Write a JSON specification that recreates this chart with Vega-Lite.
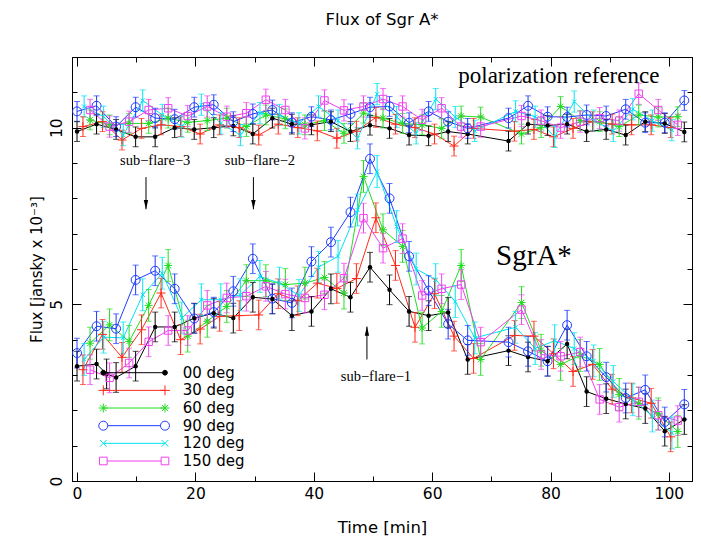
{
"$schema":"https://vega.github.io/schema/vega-lite/v6.json",
"width":620,"height":424,
"autosize":{"type":"none"},
"padding":{"left":72,"top":57,"right":9,"bottom":63},
"background":"white",
"title":{"text":"Flux of Sgr A*","font":"DejaVu Sans","fontSize":16.5,"fontWeight":"normal","color":"black","anchor":"middle","offset":28},
"config":{
 "view":{"stroke":"black","strokeWidth":1},
 "axis":{"grid":false,"domainColor":"black","domainWidth":1,"tickColor":"black","tickWidth":1,"labelColor":"black","titleColor":"black","labelFont":"DejaVu Sans","titleFont":"DejaVu Sans","labelFontSize":15.5,"titleFontSize":15,"titleFontWeight":"normal"}
},
"datasets":{
"arrows":[
 {"label":"sub−flare−3","time":11.65,"flux":8.6,"tip":7.69},
 {"label":"sub−flare−2","time":29.8,"flux":8.6,"tip":7.69},
 {"label":"sub−flare−1","time":48.98,"flux":3.44,"tip":4.37}
],
"angles":[{"angle":"00 deg"},{"angle":"30 deg"},{"angle":"60 deg"},{"angle":"90 deg"},{"angle":"120 deg"},{"angle":"150 deg"}],
"flux":[
{"angle":"00 deg","source":"SgrA*","time":0,"flux":3.25,"err":0.42},
{"angle":"00 deg","source":"SgrA*","time":3.3,"flux":3.31,"err":0.42},
{"angle":"00 deg","source":"SgrA*","time":5.0,"flux":3.03,"err":0.42},
{"angle":"00 deg","source":"SgrA*","time":6.6,"flux":2.93,"err":0.42},
{"angle":"00 deg","source":"SgrA*","time":9.9,"flux":3.25,"err":0.42},
{"angle":"00 deg","source":"SgrA*","time":13.2,"flux":4.36,"err":0.42},
{"angle":"00 deg","source":"SgrA*","time":16.5,"flux":4.36,"err":0.42},
{"angle":"00 deg","source":"SgrA*","time":19.8,"flux":4.61,"err":0.42},
{"angle":"00 deg","source":"SgrA*","time":23.1,"flux":4.75,"err":0.42},
{"angle":"00 deg","source":"SgrA*","time":26.4,"flux":4.61,"err":0.42},
{"angle":"00 deg","source":"SgrA*","time":29.7,"flux":5.2,"err":0.42},
{"angle":"00 deg","source":"SgrA*","time":33.0,"flux":5.15,"err":0.42},
{"angle":"00 deg","source":"SgrA*","time":36.3,"flux":4.68,"err":0.42},
{"angle":"00 deg","source":"SgrA*","time":39.6,"flux":4.8,"err":0.42},
{"angle":"00 deg","source":"SgrA*","time":42.9,"flux":5.44,"err":0.42},
{"angle":"00 deg","source":"SgrA*","time":46.2,"flux":5.2,"err":0.42},
{"angle":"00 deg","source":"SgrA*","time":49.5,"flux":6.05,"err":0.42},
{"angle":"00 deg","source":"SgrA*","time":52.8,"flux":5.41,"err":0.42},
{"angle":"00 deg","source":"SgrA*","time":56.1,"flux":4.8,"err":0.42},
{"angle":"00 deg","source":"SgrA*","time":59.4,"flux":4.68,"err":0.42},
{"angle":"00 deg","source":"SgrA*","time":62.7,"flux":4.77,"err":0.42},
{"angle":"00 deg","source":"SgrA*","time":66.0,"flux":3.44,"err":0.42},
{"angle":"00 deg","source":"SgrA*","time":72.9,"flux":3.69,"err":0.42},
{"angle":"00 deg","source":"SgrA*","time":76.2,"flux":3.51,"err":0.42},
{"angle":"00 deg","source":"SgrA*","time":79.5,"flux":3.39,"err":0.42},
{"angle":"00 deg","source":"SgrA*","time":82.8,"flux":3.88,"err":0.42},
{"angle":"00 deg","source":"SgrA*","time":86.1,"flux":2.53,"err":0.42},
{"angle":"00 deg","source":"SgrA*","time":89.4,"flux":2.33,"err":0.42},
{"angle":"00 deg","source":"SgrA*","time":92.7,"flux":2.18,"err":0.42},
{"angle":"00 deg","source":"SgrA*","time":96.0,"flux":2.05,"err":0.42},
{"angle":"00 deg","source":"SgrA*","time":99.3,"flux":1.41,"err":0.42},
{"angle":"00 deg","source":"SgrA*","time":102.6,"flux":1.74,"err":0.42},
{"angle":"00 deg","source":"polarization reference","time":0,"flux":9.89,"err":0.28},
{"angle":"00 deg","source":"polarization reference","time":3.3,"flux":10.1,"err":0.28},
{"angle":"00 deg","source":"polarization reference","time":6.6,"flux":9.95,"err":0.28},
{"angle":"00 deg","source":"polarization reference","time":9.9,"flux":9.74,"err":0.28},
{"angle":"00 deg","source":"polarization reference","time":13.2,"flux":9.74,"err":0.28},
{"angle":"00 deg","source":"polarization reference","time":16.5,"flux":10.0,"err":0.28},
{"angle":"00 deg","source":"polarization reference","time":19.8,"flux":9.95,"err":0.28},
{"angle":"00 deg","source":"polarization reference","time":23.1,"flux":10.0,"err":0.28},
{"angle":"00 deg","source":"polarization reference","time":26.4,"flux":10.05,"err":0.28},
{"angle":"00 deg","source":"polarization reference","time":29.7,"flux":9.82,"err":0.28},
{"angle":"00 deg","source":"polarization reference","time":33.0,"flux":10.27,"err":0.28},
{"angle":"00 deg","source":"polarization reference","time":36.3,"flux":10.1,"err":0.28},
{"angle":"00 deg","source":"polarization reference","time":39.6,"flux":10.08,"err":0.28},
{"angle":"00 deg","source":"polarization reference","time":42.9,"flux":10.17,"err":0.28},
{"angle":"00 deg","source":"polarization reference","time":46.2,"flux":9.89,"err":0.28},
{"angle":"00 deg","source":"polarization reference","time":49.5,"flux":10.07,"err":0.28},
{"angle":"00 deg","source":"polarization reference","time":52.8,"flux":9.98,"err":0.28},
{"angle":"00 deg","source":"polarization reference","time":56.1,"flux":9.79,"err":0.28},
{"angle":"00 deg","source":"polarization reference","time":59.4,"flux":9.77,"err":0.28},
{"angle":"00 deg","source":"polarization reference","time":62.7,"flux":9.89,"err":0.28},
{"angle":"00 deg","source":"polarization reference","time":66.0,"flux":9.82,"err":0.28},
{"angle":"00 deg","source":"polarization reference","time":72.9,"flux":9.62,"err":0.28},
{"angle":"00 deg","source":"polarization reference","time":76.2,"flux":10.1,"err":0.28},
{"angle":"00 deg","source":"polarization reference","time":79.5,"flux":10.06,"err":0.28},
{"angle":"00 deg","source":"polarization reference","time":82.8,"flux":10.1,"err":0.28},
{"angle":"00 deg","source":"polarization reference","time":86.1,"flux":9.89,"err":0.28},
{"angle":"00 deg","source":"polarization reference","time":89.4,"flux":9.95,"err":0.28},
{"angle":"00 deg","source":"polarization reference","time":92.7,"flux":9.79,"err":0.28},
{"angle":"00 deg","source":"polarization reference","time":96.0,"flux":10.17,"err":0.28},
{"angle":"00 deg","source":"polarization reference","time":99.3,"flux":10.12,"err":0.28},
{"angle":"00 deg","source":"polarization reference","time":102.6,"flux":9.88,"err":0.28},
{"angle":"30 deg","source":"SgrA*","time":1.0,"flux":3.15,"err":0.42},
{"angle":"30 deg","source":"SgrA*","time":4.3,"flux":4.15,"err":0.42},
{"angle":"30 deg","source":"SgrA*","time":7.6,"flux":3.5,"err":0.42},
{"angle":"30 deg","source":"SgrA*","time":10.9,"flux":4.28,"err":0.42},
{"angle":"30 deg","source":"SgrA*","time":14.2,"flux":5.32,"err":0.42},
{"angle":"30 deg","source":"SgrA*","time":17.5,"flux":4.0,"err":0.42},
{"angle":"30 deg","source":"SgrA*","time":20.8,"flux":4.3,"err":0.42},
{"angle":"30 deg","source":"SgrA*","time":24.1,"flux":4.66,"err":0.42},
{"angle":"30 deg","source":"SgrA*","time":27.4,"flux":4.68,"err":0.42},
{"angle":"30 deg","source":"SgrA*","time":30.7,"flux":4.7,"err":0.42},
{"angle":"30 deg","source":"SgrA*","time":34.0,"flux":5.3,"err":0.42},
{"angle":"30 deg","source":"SgrA*","time":37.3,"flux":5.1,"err":0.42},
{"angle":"30 deg","source":"SgrA*","time":40.6,"flux":5.6,"err":0.42},
{"angle":"30 deg","source":"SgrA*","time":43.9,"flux":5.45,"err":0.42},
{"angle":"30 deg","source":"SgrA*","time":47.2,"flux":5.73,"err":0.42},
{"angle":"30 deg","source":"SgrA*","time":50.5,"flux":7.45,"err":0.42},
{"angle":"30 deg","source":"SgrA*","time":53.8,"flux":6.1,"err":0.42},
{"angle":"30 deg","source":"SgrA*","time":57.1,"flux":4.35,"err":0.42},
{"angle":"30 deg","source":"SgrA*","time":60.4,"flux":5.3,"err":0.42},
{"angle":"30 deg","source":"SgrA*","time":63.7,"flux":4.1,"err":0.42},
{"angle":"30 deg","source":"SgrA*","time":67.0,"flux":3.47,"err":0.42},
{"angle":"30 deg","source":"SgrA*","time":73.9,"flux":4.12,"err":0.42},
{"angle":"30 deg","source":"SgrA*","time":77.2,"flux":4.1,"err":0.42},
{"angle":"30 deg","source":"SgrA*","time":80.5,"flux":3.6,"err":0.42},
{"angle":"30 deg","source":"SgrA*","time":83.8,"flux":3.1,"err":0.42},
{"angle":"30 deg","source":"SgrA*","time":87.1,"flux":3.3,"err":0.42},
{"angle":"30 deg","source":"SgrA*","time":90.4,"flux":2.6,"err":0.42},
{"angle":"30 deg","source":"SgrA*","time":93.7,"flux":2.35,"err":0.42},
{"angle":"30 deg","source":"SgrA*","time":97.0,"flux":2.2,"err":0.42},
{"angle":"30 deg","source":"SgrA*","time":100.3,"flux":1.25,"err":0.42},
{"angle":"30 deg","source":"polarization reference","time":1.0,"flux":10.03,"err":0.28},
{"angle":"30 deg","source":"polarization reference","time":4.3,"flux":10.17,"err":0.28},
{"angle":"30 deg","source":"polarization reference","time":7.6,"flux":9.65,"err":0.28},
{"angle":"30 deg","source":"polarization reference","time":10.9,"flux":9.98,"err":0.28},
{"angle":"30 deg","source":"polarization reference","time":14.2,"flux":10.08,"err":0.28},
{"angle":"30 deg","source":"polarization reference","time":17.5,"flux":10.03,"err":0.28},
{"angle":"30 deg","source":"polarization reference","time":20.8,"flux":9.82,"err":0.28},
{"angle":"30 deg","source":"polarization reference","time":24.1,"flux":10.08,"err":0.28},
{"angle":"30 deg","source":"polarization reference","time":27.4,"flux":10.0,"err":0.28},
{"angle":"30 deg","source":"polarization reference","time":30.7,"flux":9.79,"err":0.28},
{"angle":"30 deg","source":"polarization reference","time":34.0,"flux":10.1,"err":0.28},
{"angle":"30 deg","source":"polarization reference","time":37.3,"flux":10.0,"err":0.28},
{"angle":"30 deg","source":"polarization reference","time":40.6,"flux":9.91,"err":0.28},
{"angle":"30 deg","source":"polarization reference","time":43.9,"flux":9.7,"err":0.28},
{"angle":"30 deg","source":"polarization reference","time":47.2,"flux":9.9,"err":0.28},
{"angle":"30 deg","source":"polarization reference","time":50.5,"flux":10.29,"err":0.28},
{"angle":"30 deg","source":"polarization reference","time":53.8,"flux":10.1,"err":0.28},
{"angle":"30 deg","source":"polarization reference","time":57.1,"flux":10.0,"err":0.28},
{"angle":"30 deg","source":"polarization reference","time":60.4,"flux":9.82,"err":0.28},
{"angle":"30 deg","source":"polarization reference","time":63.7,"flux":9.48,"err":0.28},
{"angle":"30 deg","source":"polarization reference","time":67.0,"flux":9.98,"err":0.28},
{"angle":"30 deg","source":"polarization reference","time":73.9,"flux":9.9,"err":0.28},
{"angle":"30 deg","source":"polarization reference","time":77.2,"flux":9.95,"err":0.28},
{"angle":"30 deg","source":"polarization reference","time":80.5,"flux":9.74,"err":0.28},
{"angle":"30 deg","source":"polarization reference","time":83.8,"flux":9.98,"err":0.28},
{"angle":"30 deg","source":"polarization reference","time":87.1,"flux":10.17,"err":0.28},
{"angle":"30 deg","source":"polarization reference","time":90.4,"flux":10.1,"err":0.28},
{"angle":"30 deg","source":"polarization reference","time":93.7,"flux":10.08,"err":0.28},
{"angle":"30 deg","source":"polarization reference","time":97.0,"flux":10.08,"err":0.28},
{"angle":"30 deg","source":"polarization reference","time":100.3,"flux":10.0,"err":0.28},
{"angle":"60 deg","source":"SgrA*","time":2.2,"flux":3.9,"err":0.45},
{"angle":"60 deg","source":"SgrA*","time":5.5,"flux":4.42,"err":0.45},
{"angle":"60 deg","source":"SgrA*","time":8.8,"flux":3.95,"err":0.45},
{"angle":"60 deg","source":"SgrA*","time":12.1,"flux":4.97,"err":0.45},
{"angle":"60 deg","source":"SgrA*","time":15.4,"flux":6.1,"err":0.45},
{"angle":"60 deg","source":"SgrA*","time":18.7,"flux":4.1,"err":0.45},
{"angle":"60 deg","source":"SgrA*","time":22.0,"flux":4.52,"err":0.45},
{"angle":"60 deg","source":"SgrA*","time":25.3,"flux":4.94,"err":0.45},
{"angle":"60 deg","source":"SgrA*","time":28.6,"flux":5.67,"err":0.45},
{"angle":"60 deg","source":"SgrA*","time":31.9,"flux":5.67,"err":0.45},
{"angle":"60 deg","source":"SgrA*","time":35.2,"flux":5.56,"err":0.45},
{"angle":"60 deg","source":"SgrA*","time":38.5,"flux":5.6,"err":0.45},
{"angle":"60 deg","source":"SgrA*","time":41.8,"flux":5.76,"err":0.45},
{"angle":"60 deg","source":"SgrA*","time":45.1,"flux":5.32,"err":0.45},
{"angle":"60 deg","source":"SgrA*","time":48.4,"flux":8.62,"err":0.45},
{"angle":"60 deg","source":"SgrA*","time":51.7,"flux":7.11,"err":0.45},
{"angle":"60 deg","source":"SgrA*","time":55.0,"flux":6.64,"err":0.45},
{"angle":"60 deg","source":"SgrA*","time":58.3,"flux":4.33,"err":0.45},
{"angle":"60 deg","source":"SgrA*","time":61.6,"flux":4.8,"err":0.45},
{"angle":"60 deg","source":"SgrA*","time":64.9,"flux":6.1,"err":0.45},
{"angle":"60 deg","source":"SgrA*","time":68.2,"flux":3.44,"err":0.45},
{"angle":"60 deg","source":"SgrA*","time":75.1,"flux":5.05,"err":0.45},
{"angle":"60 deg","source":"SgrA*","time":78.4,"flux":3.7,"err":0.45},
{"angle":"60 deg","source":"SgrA*","time":81.7,"flux":3.3,"err":0.45},
{"angle":"60 deg","source":"SgrA*","time":85.0,"flux":3.55,"err":0.45},
{"angle":"60 deg","source":"SgrA*","time":88.3,"flux":3.3,"err":0.45},
{"angle":"60 deg","source":"SgrA*","time":91.6,"flux":2.45,"err":0.45},
{"angle":"60 deg","source":"SgrA*","time":94.9,"flux":2.2,"err":0.45},
{"angle":"60 deg","source":"SgrA*","time":98.2,"flux":1.9,"err":0.45},
{"angle":"60 deg","source":"SgrA*","time":101.5,"flux":1.4,"err":0.45},
{"angle":"60 deg","source":"polarization reference","time":2.2,"flux":10.22,"err":0.28},
{"angle":"60 deg","source":"polarization reference","time":5.5,"flux":10.08,"err":0.28},
{"angle":"60 deg","source":"polarization reference","time":8.8,"flux":10.12,"err":0.28},
{"angle":"60 deg","source":"polarization reference","time":12.1,"flux":10.12,"err":0.28},
{"angle":"60 deg","source":"polarization reference","time":15.4,"flux":10.27,"err":0.28},
{"angle":"60 deg","source":"polarization reference","time":18.7,"flux":10.15,"err":0.28},
{"angle":"60 deg","source":"polarization reference","time":22.0,"flux":10.2,"err":0.28},
{"angle":"60 deg","source":"polarization reference","time":25.3,"flux":10.27,"err":0.28},
{"angle":"60 deg","source":"polarization reference","time":28.6,"flux":10.03,"err":0.28},
{"angle":"60 deg","source":"polarization reference","time":31.9,"flux":10.36,"err":0.28},
{"angle":"60 deg","source":"polarization reference","time":35.2,"flux":10.25,"err":0.28},
{"angle":"60 deg","source":"polarization reference","time":38.5,"flux":10.08,"err":0.28},
{"angle":"60 deg","source":"polarization reference","time":41.8,"flux":10.2,"err":0.28},
{"angle":"60 deg","source":"polarization reference","time":45.1,"flux":9.84,"err":0.28},
{"angle":"60 deg","source":"polarization reference","time":48.4,"flux":10.41,"err":0.28},
{"angle":"60 deg","source":"polarization reference","time":51.7,"flux":10.27,"err":0.28},
{"angle":"60 deg","source":"polarization reference","time":55.0,"flux":10.12,"err":0.28},
{"angle":"60 deg","source":"polarization reference","time":58.3,"flux":10.08,"err":0.28},
{"angle":"60 deg","source":"polarization reference","time":61.6,"flux":9.98,"err":0.28},
{"angle":"60 deg","source":"polarization reference","time":64.9,"flux":10.33,"err":0.28},
{"angle":"60 deg","source":"polarization reference","time":68.2,"flux":10.3,"err":0.28},
{"angle":"60 deg","source":"polarization reference","time":75.1,"flux":9.82,"err":0.28},
{"angle":"60 deg","source":"polarization reference","time":78.4,"flux":10.0,"err":0.28},
{"angle":"60 deg","source":"polarization reference","time":81.7,"flux":10.6,"err":0.28},
{"angle":"60 deg","source":"polarization reference","time":85.0,"flux":10.2,"err":0.28},
{"angle":"60 deg","source":"polarization reference","time":88.3,"flux":10.17,"err":0.28},
{"angle":"60 deg","source":"polarization reference","time":91.6,"flux":10.03,"err":0.28},
{"angle":"60 deg","source":"polarization reference","time":94.9,"flux":10.36,"err":0.28},
{"angle":"60 deg","source":"polarization reference","time":98.2,"flux":10.3,"err":0.28},
{"angle":"60 deg","source":"polarization reference","time":101.5,"flux":10.31,"err":0.28},
{"angle":"90 deg","source":"SgrA*","time":0,"flux":3.62,"err":0.42},
{"angle":"90 deg","source":"SgrA*","time":3.3,"flux":4.38,"err":0.42},
{"angle":"90 deg","source":"SgrA*","time":6.6,"flux":4.31,"err":0.42},
{"angle":"90 deg","source":"SgrA*","time":9.9,"flux":5.69,"err":0.42},
{"angle":"90 deg","source":"SgrA*","time":13.2,"flux":5.95,"err":0.42},
{"angle":"90 deg","source":"SgrA*","time":16.5,"flux":5.44,"err":0.42},
{"angle":"90 deg","source":"SgrA*","time":19.8,"flux":4.6,"err":0.42},
{"angle":"90 deg","source":"SgrA*","time":23.1,"flux":4.78,"err":0.42},
{"angle":"90 deg","source":"SgrA*","time":26.4,"flux":5.37,"err":0.42},
{"angle":"90 deg","source":"SgrA*","time":29.7,"flux":6.29,"err":0.42},
{"angle":"90 deg","source":"SgrA*","time":33.0,"flux":5.16,"err":0.42},
{"angle":"90 deg","source":"SgrA*","time":36.3,"flux":5.04,"err":0.42},
{"angle":"90 deg","source":"SgrA*","time":39.6,"flux":6.21,"err":0.42},
{"angle":"90 deg","source":"SgrA*","time":42.9,"flux":6.76,"err":0.42},
{"angle":"90 deg","source":"SgrA*","time":46.2,"flux":7.61,"err":0.42},
{"angle":"90 deg","source":"SgrA*","time":49.5,"flux":9.12,"err":0.42},
{"angle":"90 deg","source":"SgrA*","time":52.8,"flux":8.0,"err":0.42},
{"angle":"90 deg","source":"SgrA*","time":56.1,"flux":6.36,"err":0.42},
{"angle":"90 deg","source":"SgrA*","time":59.4,"flux":5.39,"err":0.42},
{"angle":"90 deg","source":"SgrA*","time":62.7,"flux":4.44,"err":0.42},
{"angle":"90 deg","source":"SgrA*","time":66.0,"flux":3.98,"err":0.42},
{"angle":"90 deg","source":"SgrA*","time":72.9,"flux":3.93,"err":0.42},
{"angle":"90 deg","source":"SgrA*","time":76.2,"flux":3.67,"err":0.42},
{"angle":"90 deg","source":"SgrA*","time":79.5,"flux":3.39,"err":0.42},
{"angle":"90 deg","source":"SgrA*","time":82.8,"flux":4.41,"err":0.42},
{"angle":"90 deg","source":"SgrA*","time":86.1,"flux":3.53,"err":0.42},
{"angle":"90 deg","source":"SgrA*","time":89.4,"flux":2.94,"err":0.42},
{"angle":"90 deg","source":"SgrA*","time":92.7,"flux":2.35,"err":0.42},
{"angle":"90 deg","source":"SgrA*","time":96.0,"flux":2.58,"err":0.42},
{"angle":"90 deg","source":"SgrA*","time":99.3,"flux":1.67,"err":0.42},
{"angle":"90 deg","source":"SgrA*","time":102.6,"flux":2.17,"err":0.42},
{"angle":"90 deg","source":"polarization reference","time":0,"flux":10.46,"err":0.28},
{"angle":"90 deg","source":"polarization reference","time":3.3,"flux":10.62,"err":0.28},
{"angle":"90 deg","source":"polarization reference","time":6.6,"flux":10.03,"err":0.28},
{"angle":"90 deg","source":"polarization reference","time":9.9,"flux":10.58,"err":0.28},
{"angle":"90 deg","source":"polarization reference","time":13.2,"flux":10.27,"err":0.28},
{"angle":"90 deg","source":"polarization reference","time":16.5,"flux":10.24,"err":0.28},
{"angle":"90 deg","source":"polarization reference","time":19.8,"flux":10.58,"err":0.28},
{"angle":"90 deg","source":"polarization reference","time":23.1,"flux":10.65,"err":0.28},
{"angle":"90 deg","source":"polarization reference","time":26.4,"flux":10.17,"err":0.28},
{"angle":"90 deg","source":"polarization reference","time":29.7,"flux":10.39,"err":0.28},
{"angle":"90 deg","source":"polarization reference","time":33.0,"flux":10.5,"err":0.28},
{"angle":"90 deg","source":"polarization reference","time":36.3,"flux":10.14,"err":0.28},
{"angle":"90 deg","source":"polarization reference","time":39.6,"flux":10.31,"err":0.28},
{"angle":"90 deg","source":"polarization reference","time":42.9,"flux":10.22,"err":0.28},
{"angle":"90 deg","source":"polarization reference","time":46.2,"flux":10.39,"err":0.28},
{"angle":"90 deg","source":"polarization reference","time":49.5,"flux":10.58,"err":0.28},
{"angle":"90 deg","source":"polarization reference","time":52.8,"flux":10.6,"err":0.28},
{"angle":"90 deg","source":"polarization reference","time":56.1,"flux":10.14,"err":0.28},
{"angle":"90 deg","source":"polarization reference","time":59.4,"flux":10.46,"err":0.28},
{"angle":"90 deg","source":"polarization reference","time":62.7,"flux":10.17,"err":0.28},
{"angle":"90 deg","source":"polarization reference","time":66.0,"flux":9.98,"err":0.28},
{"angle":"90 deg","source":"polarization reference","time":72.9,"flux":10.27,"err":0.28},
{"angle":"90 deg","source":"polarization reference","time":76.2,"flux":10.62,"err":0.28},
{"angle":"90 deg","source":"polarization reference","time":79.5,"flux":10.31,"err":0.28},
{"angle":"90 deg","source":"polarization reference","time":82.8,"flux":10.3,"err":0.28},
{"angle":"90 deg","source":"polarization reference","time":86.1,"flux":10.36,"err":0.28},
{"angle":"90 deg","source":"polarization reference","time":89.4,"flux":10.33,"err":0.28},
{"angle":"90 deg","source":"polarization reference","time":92.7,"flux":10.52,"err":0.28},
{"angle":"90 deg","source":"polarization reference","time":96.0,"flux":10.14,"err":0.28},
{"angle":"90 deg","source":"polarization reference","time":99.3,"flux":10.14,"err":0.28},
{"angle":"90 deg","source":"polarization reference","time":102.6,"flux":10.77,"err":0.28},
{"angle":"120 deg","source":"SgrA*","time":1.2,"flux":3.44,"err":0.45},
{"angle":"120 deg","source":"SgrA*","time":4.5,"flux":4.07,"err":0.45},
{"angle":"120 deg","source":"SgrA*","time":7.8,"flux":4.05,"err":0.45},
{"angle":"120 deg","source":"SgrA*","time":11.1,"flux":5.27,"err":0.45},
{"angle":"120 deg","source":"SgrA*","time":14.4,"flux":5.88,"err":0.45},
{"angle":"120 deg","source":"SgrA*","time":17.7,"flux":4.61,"err":0.45},
{"angle":"120 deg","source":"SgrA*","time":21.0,"flux":5.13,"err":0.45},
{"angle":"120 deg","source":"SgrA*","time":24.3,"flux":5.13,"err":0.45},
{"angle":"120 deg","source":"SgrA*","time":27.6,"flux":5.27,"err":0.45},
{"angle":"120 deg","source":"SgrA*","time":30.9,"flux":5.79,"err":0.45},
{"angle":"120 deg","source":"SgrA*","time":34.2,"flux":5.6,"err":0.45},
{"angle":"120 deg","source":"SgrA*","time":37.5,"flux":5.25,"err":0.45},
{"angle":"120 deg","source":"SgrA*","time":40.8,"flux":6.05,"err":0.45},
{"angle":"120 deg","source":"SgrA*","time":44.1,"flux":6.36,"err":0.45},
{"angle":"120 deg","source":"SgrA*","time":47.4,"flux":7.67,"err":0.45},
{"angle":"120 deg","source":"SgrA*","time":50.7,"flux":8.76,"err":0.45},
{"angle":"120 deg","source":"SgrA*","time":54.0,"flux":7.2,"err":0.45},
{"angle":"120 deg","source":"SgrA*","time":57.3,"flux":6.0,"err":0.45},
{"angle":"120 deg","source":"SgrA*","time":60.6,"flux":5.7,"err":0.45},
{"angle":"120 deg","source":"SgrA*","time":63.9,"flux":5.08,"err":0.45},
{"angle":"120 deg","source":"SgrA*","time":67.2,"flux":4.05,"err":0.45},
{"angle":"120 deg","source":"SgrA*","time":74.1,"flux":4.35,"err":0.45},
{"angle":"120 deg","source":"SgrA*","time":77.4,"flux":3.75,"err":0.45},
{"angle":"120 deg","source":"SgrA*","time":80.7,"flux":3.97,"err":0.45},
{"angle":"120 deg","source":"SgrA*","time":84.0,"flux":3.75,"err":0.45},
{"angle":"120 deg","source":"SgrA*","time":87.3,"flux":3.4,"err":0.45},
{"angle":"120 deg","source":"SgrA*","time":90.6,"flux":2.82,"err":0.45},
{"angle":"120 deg","source":"SgrA*","time":93.9,"flux":2.3,"err":0.45},
{"angle":"120 deg","source":"SgrA*","time":97.2,"flux":1.84,"err":0.45},
{"angle":"120 deg","source":"SgrA*","time":100.5,"flux":1.36,"err":0.45},
{"angle":"120 deg","source":"polarization reference","time":1.2,"flux":10.6,"err":0.3},
{"angle":"120 deg","source":"polarization reference","time":4.5,"flux":10.31,"err":0.3},
{"angle":"120 deg","source":"polarization reference","time":7.8,"flux":9.79,"err":0.3},
{"angle":"120 deg","source":"polarization reference","time":11.1,"flux":10.77,"err":0.3},
{"angle":"120 deg","source":"polarization reference","time":14.4,"flux":10.36,"err":0.3},
{"angle":"120 deg","source":"polarization reference","time":17.7,"flux":10.03,"err":0.3},
{"angle":"120 deg","source":"polarization reference","time":21.0,"flux":10.65,"err":0.3},
{"angle":"120 deg","source":"polarization reference","time":24.3,"flux":10.12,"err":0.3},
{"angle":"120 deg","source":"polarization reference","time":27.6,"flux":9.79,"err":0.3},
{"angle":"120 deg","source":"polarization reference","time":30.9,"flux":10.41,"err":0.3},
{"angle":"120 deg","source":"polarization reference","time":34.2,"flux":10.36,"err":0.3},
{"angle":"120 deg","source":"polarization reference","time":37.5,"flux":10.12,"err":0.3},
{"angle":"120 deg","source":"polarization reference","time":40.8,"flux":10.6,"err":0.3},
{"angle":"120 deg","source":"polarization reference","time":44.1,"flux":10.2,"err":0.3},
{"angle":"120 deg","source":"polarization reference","time":47.4,"flux":9.7,"err":0.3},
{"angle":"120 deg","source":"polarization reference","time":50.7,"flux":10.95,"err":0.3},
{"angle":"120 deg","source":"polarization reference","time":54.0,"flux":10.3,"err":0.3},
{"angle":"120 deg","source":"polarization reference","time":57.3,"flux":9.84,"err":0.3},
{"angle":"120 deg","source":"polarization reference","time":60.6,"flux":10.81,"err":0.3},
{"angle":"120 deg","source":"polarization reference","time":63.9,"flux":10.3,"err":0.3},
{"angle":"120 deg","source":"polarization reference","time":67.2,"flux":9.91,"err":0.3},
{"angle":"120 deg","source":"polarization reference","time":74.1,"flux":10.46,"err":0.3},
{"angle":"120 deg","source":"polarization reference","time":77.4,"flux":10.31,"err":0.3},
{"angle":"120 deg","source":"polarization reference","time":80.7,"flux":9.74,"err":0.3},
{"angle":"120 deg","source":"polarization reference","time":84.0,"flux":10.74,"err":0.3},
{"angle":"120 deg","source":"polarization reference","time":87.3,"flux":10.2,"err":0.3},
{"angle":"120 deg","source":"polarization reference","time":90.6,"flux":9.91,"err":0.3},
{"angle":"120 deg","source":"polarization reference","time":93.9,"flux":10.52,"err":0.3},
{"angle":"120 deg","source":"polarization reference","time":97.2,"flux":10.2,"err":0.3},
{"angle":"120 deg","source":"polarization reference","time":100.5,"flux":9.93,"err":0.3},
{"angle":"150 deg","source":"SgrA*","time":2.2,"flux":3.15,"err":0.42},
{"angle":"150 deg","source":"SgrA*","time":5.5,"flux":2.92,"err":0.42},
{"angle":"150 deg","source":"SgrA*","time":8.8,"flux":3.34,"err":0.42},
{"angle":"150 deg","source":"SgrA*","time":12.1,"flux":3.94,"err":0.42},
{"angle":"150 deg","source":"SgrA*","time":15.4,"flux":4.26,"err":0.42},
{"angle":"150 deg","source":"SgrA*","time":18.7,"flux":4.26,"err":0.42},
{"angle":"150 deg","source":"SgrA*","time":22.0,"flux":4.97,"err":0.42},
{"angle":"150 deg","source":"SgrA*","time":25.3,"flux":5.18,"err":0.42},
{"angle":"150 deg","source":"SgrA*","time":28.6,"flux":5.23,"err":0.42},
{"angle":"150 deg","source":"SgrA*","time":31.9,"flux":5.51,"err":0.42},
{"angle":"150 deg","source":"SgrA*","time":35.2,"flux":5.29,"err":0.42},
{"angle":"150 deg","source":"SgrA*","time":38.5,"flux":5.18,"err":0.42},
{"angle":"150 deg","source":"SgrA*","time":41.8,"flux":5.27,"err":0.42},
{"angle":"150 deg","source":"SgrA*","time":45.1,"flux":5.74,"err":0.42},
{"angle":"150 deg","source":"SgrA*","time":48.4,"flux":7.44,"err":0.42},
{"angle":"150 deg","source":"SgrA*","time":51.7,"flux":6.59,"err":0.42},
{"angle":"150 deg","source":"SgrA*","time":55.0,"flux":6.86,"err":0.42},
{"angle":"150 deg","source":"SgrA*","time":58.3,"flux":5.25,"err":0.42},
{"angle":"150 deg","source":"SgrA*","time":61.6,"flux":5.44,"err":0.42},
{"angle":"150 deg","source":"SgrA*","time":64.9,"flux":5.56,"err":0.42},
{"angle":"150 deg","source":"SgrA*","time":68.2,"flux":3.93,"err":0.42},
{"angle":"150 deg","source":"SgrA*","time":75.1,"flux":4.85,"err":0.42},
{"angle":"150 deg","source":"SgrA*","time":78.4,"flux":3.58,"err":0.42},
{"angle":"150 deg","source":"SgrA*","time":81.7,"flux":3.53,"err":0.42},
{"angle":"150 deg","source":"SgrA*","time":85.0,"flux":3.65,"err":0.42},
{"angle":"150 deg","source":"SgrA*","time":88.3,"flux":2.31,"err":0.42},
{"angle":"150 deg","source":"SgrA*","time":91.6,"flux":2.09,"err":0.42},
{"angle":"150 deg","source":"SgrA*","time":94.9,"flux":2.24,"err":0.42},
{"angle":"150 deg","source":"SgrA*","time":98.2,"flux":1.86,"err":0.42},
{"angle":"150 deg","source":"SgrA*","time":101.5,"flux":1.71,"err":0.42},
{"angle":"150 deg","source":"polarization reference","time":2.2,"flux":10.5,"err":0.3},
{"angle":"150 deg","source":"polarization reference","time":5.5,"flux":10.03,"err":0.3},
{"angle":"150 deg","source":"polarization reference","time":8.8,"flux":10.17,"err":0.3},
{"angle":"150 deg","source":"polarization reference","time":12.1,"flux":10.5,"err":0.3},
{"angle":"150 deg","source":"polarization reference","time":15.4,"flux":10.55,"err":0.3},
{"angle":"150 deg","source":"polarization reference","time":18.7,"flux":10.33,"err":0.3},
{"angle":"150 deg","source":"polarization reference","time":22.0,"flux":10.6,"err":0.3},
{"angle":"150 deg","source":"polarization reference","time":25.3,"flux":10.31,"err":0.3},
{"angle":"150 deg","source":"polarization reference","time":28.6,"flux":10.41,"err":0.3},
{"angle":"150 deg","source":"polarization reference","time":31.9,"flux":10.79,"err":0.3},
{"angle":"150 deg","source":"polarization reference","time":35.2,"flux":10.5,"err":0.3},
{"angle":"150 deg","source":"polarization reference","time":38.5,"flux":9.98,"err":0.3},
{"angle":"150 deg","source":"polarization reference","time":41.8,"flux":10.77,"err":0.3},
{"angle":"150 deg","source":"polarization reference","time":45.1,"flux":10.49,"err":0.3},
{"angle":"150 deg","source":"polarization reference","time":48.4,"flux":10.6,"err":0.3},
{"angle":"150 deg","source":"polarization reference","time":51.7,"flux":10.81,"err":0.3},
{"angle":"150 deg","source":"polarization reference","time":55.0,"flux":10.6,"err":0.3},
{"angle":"150 deg","source":"polarization reference","time":58.3,"flux":10.22,"err":0.3},
{"angle":"150 deg","source":"polarization reference","time":61.6,"flux":10.55,"err":0.3},
{"angle":"150 deg","source":"polarization reference","time":64.9,"flux":10.03,"err":0.3},
{"angle":"150 deg","source":"polarization reference","time":68.2,"flux":10.03,"err":0.3},
{"angle":"150 deg","source":"polarization reference","time":75.1,"flux":10.33,"err":0.3},
{"angle":"150 deg","source":"polarization reference","time":78.4,"flux":10.2,"err":0.3},
{"angle":"150 deg","source":"polarization reference","time":81.7,"flux":10.0,"err":0.3},
{"angle":"150 deg","source":"polarization reference","time":85.0,"flux":10.17,"err":0.3},
{"angle":"150 deg","source":"polarization reference","time":88.3,"flux":10.27,"err":0.3},
{"angle":"150 deg","source":"polarization reference","time":91.6,"flux":10.2,"err":0.3},
{"angle":"150 deg","source":"polarization reference","time":94.9,"flux":10.96,"err":0.3},
{"angle":"150 deg","source":"polarization reference","time":98.2,"flux":10.5,"err":0.3},
{"angle":"150 deg","source":"polarization reference","time":101.5,"flux":10.08,"err":0.3}
]},
"layer":[
 {"data":{"name":"flux"},
  "encoding":{
   "x":{"field":"time","type":"quantitative","scale":{"domain":[-0.85,103.9],"nice":false,"zero":false},"axis":null},
   "y":{"field":"flux","type":"quantitative","scale":{"domain":[0,12],"nice":false,"zero":false},"axis":null}
  },
  "layer":[
   {"mark":{"type":"line","strokeWidth":1},
    "encoding":{
     "x":{"field":"time","type":"quantitative","scale":{"domain":[-0.85,103.9],"nice":false,"zero":false},
          "axis":{"orient":"bottom","title":"Time [min]","values":[0,10,20,30,40,50,60,70,80,90,100],
                  "labelExpr":"datum.value % 20 === 0 ? datum.label : ''",
                  "tickSize":{"condition":{"test":"datum.value % 20 === 0","value":-9},"value":-5},
                  "labelPadding":14,"labelBaseline":"top","titleX":310,"titleY":46,"titleBaseline":"middle","titleFontSize":16.5}},
     "y":{"field":"flux","type":"quantitative","scale":{"domain":[0,12],"nice":false,"zero":false},
          "axis":{"orient":"left","title":"Flux [jansky x 10⁻³]","values":[0,1,2,3,4,5,6,7,8,9,10,11],
                  "labelExpr":"datum.value % 5 === 0 ? datum.label : ''",
                  "tickSize":{"condition":{"test":"datum.value % 5 === 0","value":-9},"value":-5},
                  "labelAngle":270,"labelAlign":"center","labelBaseline":"bottom","labelPadding":17,
                  "titleX":-36,"titleY":212,"titleAngle":270,"titleBaseline":"middle","titleAlign":"center"}},
     "color":{"field":"angle","type":"nominal","scale":{"domain":["00 deg","30 deg","60 deg","90 deg","120 deg","150 deg"],"range":["#000000","#ff2a1a","#22dd22","#1e3cff","#00e4f0","#f040f0"]},"legend":null},
     "detail":{"field":"source"}
    }},
   {"mark":{"type":"errorbar","ticks":{"size":6},"thickness":1},
    "encoding":{
     "yError":{"field":"err"},
     "color":{"field":"angle","type":"nominal","scale":{"domain":["00 deg","30 deg","60 deg","90 deg","120 deg","150 deg"],"range":["#000000","#ff2a1a","#22dd22","#1e3cff","#00e4f0","#f040f0"]},"legend":null}
    }},
   {"transform":[{"filter":"datum.angle === '00 deg'"}],
    "mark":{"type":"point","shape":"circle","size":20,"filled":true,"color":"#000000","opacity":1}},
   {"transform":[{"filter":"datum.angle === '30 deg'"}],
    "mark":{"type":"point","shape":"M-1,0L1,0M0,-1L0,1","size":81,"filled":false,"color":"#ff2a1a","strokeWidth":1,"opacity":1}},
   {"transform":[{"filter":"datum.angle === '60 deg'"}],
    "mark":{"type":"point","shape":"M-1,0L1,0M0,-1L0,1M-0.7,-0.7L0.7,0.7M-0.7,0.7L0.7,-0.7","size":64,"filled":false,"color":"#22dd22","strokeWidth":1,"opacity":1}},
   {"transform":[{"filter":"datum.angle === '90 deg'"}],
    "mark":{"type":"point","shape":"circle","size":80,"filled":false,"color":"#1e3cff","strokeWidth":1,"opacity":1}},
   {"transform":[{"filter":"datum.angle === '120 deg'"}],
    "mark":{"type":"point","shape":"M-1,-1L1,1M-1,1L1,-1","size":16,"filled":false,"color":"#00e4f0","strokeWidth":1,"opacity":1}},
   {"transform":[{"filter":"datum.angle === '150 deg'"}],
    "mark":{"type":"point","shape":"square","size":55,"filled":false,"color":"#f040f0","strokeWidth":1,"opacity":1}},
   {"data":{"name":"arrows"},
    "mark":{"type":"rule","color":"black","strokeWidth":1},
    "encoding":{"y2":{"field":"tip"}}},
   {"data":{"name":"arrows"},
    "transform":[{"filter":"datum.label !== 'sub−flare−1'"}],
    "mark":{"type":"point","shape":"M-0.55,-2.3L0.55,-2.3L0,0Z","size":64,"filled":true,"color":"black","opacity":1},
    "encoding":{"y":{"field":"tip","type":"quantitative","scale":{"domain":[0,12],"nice":false,"zero":false},"axis":null}}},
   {"data":{"name":"arrows"},
    "transform":[{"filter":"datum.label === 'sub−flare−1'"}],
    "mark":{"type":"point","shape":"M-0.55,2.3L0.55,2.3L0,0Z","size":64,"filled":true,"color":"black","opacity":1},
    "encoding":{"y":{"field":"tip","type":"quantitative","scale":{"domain":[0,12],"nice":false,"zero":false},"axis":null}}},
   {"data":{"values":[{"label":"sub−flare−3","time":13.2,"flux":8.94},{"label":"sub−flare−2","time":30.9,"flux":8.94},{"label":"sub−flare−1","time":50.5,"flux":2.83}]},
    "mark":{"type":"text","font":"Liberation Serif","fontSize":14.5,"align":"center","baseline":"alphabetic","color":"black"},
    "encoding":{"text":{"field":"label"}}},
   {"data":{"values":[{"label":"SgrA*","time":77.2,"flux":6.11}]},
    "mark":{"type":"text","font":"Liberation Serif","fontSize":29,"align":"center","baseline":"alphabetic","color":"black"},
    "encoding":{"text":{"field":"label"}}},
   {"data":{"values":[{"label":"polarization reference","time":81.4,"flux":11.26}]},
    "mark":{"type":"text","font":"Liberation Serif","fontSize":23,"align":"center","baseline":"alphabetic","color":"black"},
    "encoding":{
     "text":{"field":"label"},
     "x":{"field":"time","type":"quantitative","scale":{"domain":[-0.85,103.9],"nice":false,"zero":false},
          "axis":{"orient":"top","title":null,"labels":false,"values":[0,10,20,30,40,50,60,70,80,90,100],
                  "tickSize":{"condition":{"test":"datum.value % 20 === 0","value":-9},"value":-5}}},
     "y":{"field":"flux","type":"quantitative","scale":{"domain":[0,12],"nice":false,"zero":false},
          "axis":{"orient":"right","title":null,"labels":false,"values":[0,1,2,3,4,5,6,7,8,9,10,11],
                  "tickSize":{"condition":{"test":"datum.value % 5 === 0","value":-9},"value":-5}}}
    }}
  ],
  "resolve":{"axis":{"x":"independent","y":"independent"}}
 },
 {"data":{"name":"angles"},
  "encoding":{
   "y":{"field":"angle","type":"nominal","scale":{"type":"point","domain":["00 deg","30 deg","60 deg","90 deg","120 deg","150 deg"],"range":[315.7,404],"padding":0},"axis":null},
   "color":{"field":"angle","type":"nominal","scale":{"domain":["00 deg","30 deg","60 deg","90 deg","120 deg","150 deg"],"range":["#000000","#ff2a1a","#22dd22","#1e3cff","#00e4f0","#f040f0"]},"legend":null}
  },
  "layer":[
   {"mark":{"type":"rule","strokeWidth":1},
    "encoding":{
     "x":{"datum":4.44,"type":"quantitative","scale":{"domain":[-0.85,103.9],"nice":false,"zero":false},"axis":null},
     "x2":{"datum":14.86}
    }},
   {"mark":{"type":"point","filled":false,"strokeWidth":1,"opacity":1,"size":81},
    "encoding":{
     "x":{"datum":4.44,"type":"quantitative","scale":{"domain":[-0.85,103.9],"nice":false,"zero":false},"axis":null},
     "shape":{"field":"angle","type":"nominal","scale":{"domain":["00 deg","30 deg","60 deg","90 deg","120 deg","150 deg"],"range":["M0.55,0L0.39,0.39L0,0.55L-0.39,0.39L-0.55,0L-0.39,-0.39L0,-0.55L0.39,-0.39Z","M-1.1,0L1.1,0M0,-1.1L0,1.1","M-1,0L1,0M0,-1L0,1M-0.7,-0.7L0.7,0.7M-0.7,0.7L0.7,-0.7","circle","M-0.75,-0.75L0.75,0.75M-0.75,0.75L0.75,-0.75","M-0.85,-0.85L0.85,-0.85L0.85,0.85L-0.85,0.85Z"]},"legend":null},
     "fill":{"field":"angle","type":"nominal","scale":{"domain":["00 deg","30 deg","60 deg","90 deg","120 deg","150 deg"],"range":["#000000","transparent","transparent","#ffffff","transparent","#ffffff"]},"legend":null}
    }},
   {"mark":{"type":"point","filled":false,"strokeWidth":1,"opacity":1,"size":81},
    "encoding":{
     "x":{"datum":14.86,"type":"quantitative","scale":{"domain":[-0.85,103.9],"nice":false,"zero":false},"axis":null},
     "shape":{"field":"angle","type":"nominal","scale":{"domain":["00 deg","30 deg","60 deg","90 deg","120 deg","150 deg"],"range":["M0.55,0L0.39,0.39L0,0.55L-0.39,0.39L-0.55,0L-0.39,-0.39L0,-0.55L0.39,-0.39Z","M-1.1,0L1.1,0M0,-1.1L0,1.1","M-1,0L1,0M0,-1L0,1M-0.7,-0.7L0.7,0.7M-0.7,0.7L0.7,-0.7","circle","M-0.75,-0.75L0.75,0.75M-0.75,0.75L0.75,-0.75","M-0.85,-0.85L0.85,-0.85L0.85,0.85L-0.85,0.85Z"]},"legend":null},
     "fill":{"field":"angle","type":"nominal","scale":{"domain":["00 deg","30 deg","60 deg","90 deg","120 deg","150 deg"],"range":["#000000","transparent","transparent","#ffffff","transparent","#ffffff"]},"legend":null}
    }},
   {"mark":{"type":"text","align":"left","baseline":"middle","font":"DejaVu Sans","fontSize":15,"color":"black"},
    "encoding":{
     "x":{"datum":17.86,"type":"quantitative","scale":{"domain":[-0.85,103.9],"nice":false,"zero":false},"axis":null},
     "text":{"field":"angle"},
     "color":{"value":"black"}
    }}
  ]
 }
],
"resolve":{"scale":{"y":"independent"},"axis":{"x":"independent","y":"independent"}}
}
